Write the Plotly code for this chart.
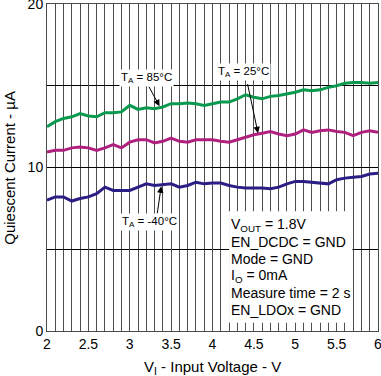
import plotly.graph_objects as go

vin = [2.0, 2.1, 2.2, 2.3, 2.4, 2.5, 2.6, 2.7, 2.8, 2.9, 3.0, 3.1, 3.2, 3.3, 3.4, 3.5, 3.6, 3.7, 3.8, 3.9,
       4.0, 4.1, 4.2, 4.3, 4.4, 4.5, 4.6, 4.7, 4.8, 4.9, 5.0, 5.1, 5.2, 5.3, 5.4, 5.5, 5.6, 5.7, 5.8, 5.9, 6.0]

iq_85 = [12.5, 12.8, 13.0, 13.1, 13.3, 13.15, 13.1, 13.35, 13.35, 13.4, 13.8, 13.55, 13.65, 13.6, 13.7, 13.9, 13.9,
         13.95, 13.9, 13.8, 13.9, 14.0, 14.0, 14.2, 14.45, 14.3, 14.2, 14.35, 14.4, 14.5, 14.6, 14.75, 14.7, 14.75,
         14.9, 15.0, 15.15, 15.2, 15.2, 15.15, 15.2]

iq_25 = [10.95, 11.05, 11.05, 11.2, 11.25, 11.2, 11.05, 11.2, 11.4, 11.2, 11.55, 11.7, 11.7, 11.5, 11.6, 11.8, 11.6,
         11.55, 11.7, 11.7, 11.7, 11.6, 11.55, 11.7, 11.85, 12.0, 12.1, 12.2, 12.05, 11.95, 12.05, 12.3, 12.15, 12.25,
         12.3, 12.2, 12.15, 11.95, 12.15, 12.25, 12.15]

iq_m40 = [8.0, 8.2, 8.2, 7.95, 8.1, 8.2, 8.4, 8.8, 8.6, 8.6, 8.6, 8.8, 9.0, 8.9, 8.95, 9.0, 8.8,
          8.9, 9.1, 9.0, 9.05, 9.05, 8.9, 8.8, 8.75, 8.75, 8.75, 8.7, 8.8, 9.0, 9.15, 9.15, 9.1, 9.05,
          9.0, 9.25, 9.35, 9.4, 9.45, 9.6, 9.65]

x_ticks = [2, 2.5, 3, 3.5, 4, 4.5, 5, 5.5, 6]
x_tick_text = ["2", "2.5", "3", "3.5", "4", "4.5", "5", "5.5", "6"]
y_ticks = [0, 10, 20]

x_title = "V<sub>I</sub> - Input Voltage - V"
y_title = "Quiescent Current - µA"

conditions = ["V<sub>OUT</sub> = 1.8V", "EN_DCDC = GND", "Mode = GND", "I<sub>O</sub> = 0mA",
              "Measure time = 2 s", "EN_LDOx = GND"]

fig = go.Figure()
fig.add_trace(go.Scatter(x=vin, y=iq_85, mode="lines", line=dict(color="#0a9a4f", width=3), showlegend=False))
fig.add_trace(go.Scatter(x=vin, y=iq_25, mode="lines", line=dict(color="#b0207f", width=3), showlegend=False))
fig.add_trace(go.Scatter(x=vin, y=iq_m40, mode="lines", line=dict(color="#2b1f85", width=3), showlegend=False))

font = "Liberation Sans, Arial, sans-serif"

# white box behind conditions
fig.add_shape(type="rect", x0=4.2, x1=5.69, y0=0.5, y1=7.33, xref="x", yref="y",
              fillcolor="white", line=dict(width=0), layer="above")

# condition lines, one per row (row pitch 17 px; plot height 327 px for 20 units)
row_top = 224.5   # px from figure top for first row centre
row_pitch = 17.0
plot_top, plot_h = 4.0, 327.0
for i, line in enumerate(conditions):
    py = row_top + row_pitch * i
    yval = 20 * (1 - (py - plot_top) / plot_h)
    fig.add_annotation(x=4.195, y=yval, xref="x", yref="y", xanchor="left", yanchor="middle",
                       text=line, align="left", showarrow=False,
                       font=dict(family=font, size=14, color="black"))

labels = [("T<sub>A</sub> = 85°C", 3.2, 15.5, 3.22, 15.05, 3.36, 13.75),
          ("T<sub>A</sub> = 25°C", 4.38, 15.85, 4.42, 15.2, 4.55, 12.1),
          ("T<sub>A</sub> = -40°C", 3.24, 6.65, 3.33, 7.1, 3.38, 8.85)]
for txt, tx, ty, x0, y0, x1, y1 in labels:
    fig.add_annotation(x=x1, y=y1, ax=x0, ay=y0, xref="x", yref="y", axref="x", ayref="y",
                       text="", showarrow=True, arrowhead=2, arrowsize=1.3, arrowwidth=1,
                       arrowcolor="black", standoff=0)
    fig.add_annotation(x=tx, y=ty, xref="x", yref="y", text=txt, showarrow=False,
                       bgcolor="white", borderpad=1, font=dict(family=font, size=11.5, color="black"))

# axis titles as paper-positioned annotations
fig.add_annotation(x=0.5, y=-0.112, xref="paper", yref="paper", text=x_title, showarrow=False,
                   xanchor="center", yanchor="middle", font=dict(family=font, size=15, color="black"))
fig.add_annotation(x=-0.114, y=0.5, xref="paper", yref="paper", text=y_title, showarrow=False,
                   textangle=-90, xanchor="center", yanchor="middle",
                   font=dict(family=font, size=15, color="black"))

fig.update_layout(
    width=381, height=376,
    margin=dict(l=47, r=3, t=4, b=45, autoexpand=False),
    plot_bgcolor="white", paper_bgcolor="white",
    font=dict(family=font, size=14, color="black"),
)
fig.update_xaxes(range=[2, 6], tickvals=x_ticks, ticktext=x_tick_text, ticks="",
                 automargin=False, ticklabeloverflow="allow", tickfont=dict(size=14),
                 showgrid=True, gridcolor="#4d4d4d", gridwidth=1,
                 minor=dict(dtick=0.1, tick0=2, showgrid=True, gridcolor="#4d4d4d", gridwidth=1),
                 showline=True, linecolor="#4d4d4d", linewidth=1, mirror=True, zeroline=False)
fig.update_yaxes(range=[0, 20], tickvals=y_ticks, ticks="",
                 automargin=False, ticklabeloverflow="allow", tickfont=dict(size=14),
                 showgrid=True, gridcolor="black", gridwidth=1,
                 minor=dict(dtick=5, tick0=0, showgrid=True, gridcolor="black", gridwidth=1),
                 showline=True, linecolor="#4d4d4d", linewidth=1, mirror=True, zeroline=False)

fig.write_html("out.html", config={"displayModeBar": False},
               post_script="document.body.style.margin='0';document.body.style.overflow='hidden';")
